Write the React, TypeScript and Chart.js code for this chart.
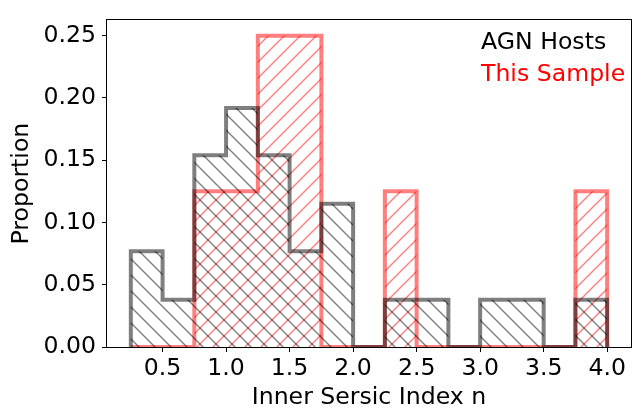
import React, { useEffect, useRef } from "react";
import { Chart, registerables } from "chart.js";

Chart.register(...registerables);

// ---- data ----
const binEdges = [0.25, 0.5, 0.75, 1.0, 1.25, 1.5, 1.75, 2.0, 2.25, 2.5, 2.75, 3.0, 3.25, 3.5, 3.75, 4.0];
const agnHosts = [0.077, 0.038, 0.154, 0.192, 0.154, 0.077, 0.115, 0.0, 0.038, 0.038, 0.0, 0.038, 0.038, 0.0, 0.038];
const thisSample = [0.0, 0.0, 0.125, 0.125, 0.25, 0.25, 0.0, 0.0, 0.125, 0.0, 0.0, 0.0, 0.0, 0.0, 0.125];
const seriesNames = ["AGN Hosts", "This Sample"];
const xTicks = [0.5, 1.0, 1.5, 2.0, 2.5, 3.0, 3.5, 4.0];
const yTicks = [0.0, 0.05, 0.1, 0.15, 0.2, 0.25];
const xRange = [0.0625, 4.1875];
const yRange = [0, 0.2625];

const FONT = "DejaVu Sans";
const FS = 23.6;

function stepPoints(edges: number[], vals: number[]) {
  const pts: { x: number; y: number }[] = [{ x: edges[0], y: 0 }];
  vals.forEach((v, i) => pts.push({ x: edges[i], y: v }));
  pts.push({ x: edges[edges.length - 1], y: vals[vals.length - 1] });
  pts.push({ x: edges[edges.length - 1], y: 0 });
  return pts;
}

function hatch(color: string, dir: "/" | "\\") {
  const s = 16;
  const c = document.createElement("canvas");
  c.width = s;
  c.height = s;
  const g = c.getContext("2d")!;
  g.strokeStyle = color;
  g.lineWidth = 1.4;
  if (dir === "/") {
    for (const cc of [0, s, 2 * s]) {
      g.beginPath();
      g.moveTo(cc - s - 2, s + 2);
      g.lineTo(cc + 2, -2);
      g.stroke();
    }
  } else {
    for (const cc of [-s, 0, s]) {
      g.beginPath();
      g.moveTo(cc - 2, -2);
      g.lineTo(cc + s + 2, s + 2);
      g.stroke();
    }
  }
  return g.createPattern(c, "repeat")!;
}

const framePlugin = {
  id: "frame",
  afterDatasetsDraw(chart: any) {
    const { ctx, chartArea } = chart;
    ctx.save();
    ctx.strokeStyle = "#000";
    ctx.lineWidth = 1;
    ctx.strokeRect(
      Math.round(chartArea.left) - 0.5,
      Math.round(chartArea.top) - 0.5,
      Math.round(chartArea.right - chartArea.left) + 1,
      Math.round(chartArea.bottom - chartArea.top) + 1
    );
    ctx.restore();
  },
  afterDraw(chart: any) {
    const { ctx, chartArea } = chart;
    ctx.save();
    ctx.font = `${FS}px "${FONT}"`;
    ctx.textAlign = "left";
    ctx.textBaseline = "alphabetic";
    const colors = ["#000000", "#ff0000"];
    seriesNames.forEach((name, i) => {
      ctx.fillStyle = colors[i];
      ctx.fillText(name, chartArea.right - 150, chartArea.top + 29 + 32 * i);
    });
    ctx.restore();
  },
};

export default function App() {
  const ref = useRef<HTMLCanvasElement>(null);
  useEffect(() => {
    const canvas = ref.current!;
    const chart = new Chart(canvas, {
      type: "line",
      data: {
        datasets: [
          {
            label: seriesNames[0],
            data: stepPoints(binEdges, agnHosts),
            stepped: "before",
            borderColor: "rgba(0,0,0,0.5)",
            backgroundColor: hatch("rgba(0,0,0,0.5)", "\\"),
            borderWidth: 4,
            borderJoinStyle: "miter",
            fill: "origin",
            pointRadius: 0,
            clip: 0,
          } as any,
          {
            label: seriesNames[1],
            data: stepPoints(binEdges, thisSample),
            stepped: "before",
            borderColor: "rgba(255,0,0,0.5)",
            backgroundColor: hatch("rgba(255,0,0,0.5)", "/"),
            borderWidth: 4,
            borderJoinStyle: "miter",
            fill: "origin",
            pointRadius: 0,
            clip: 0,
          } as any,
        ],
      },
      options: {
        animation: false,
        responsive: false,
        layout: { padding: { left: 0, right: 8, top: 8, bottom: 0 } },
        plugins: { legend: { display: false }, tooltip: { enabled: false } },
        font: { family: FONT, size: FS },
        scales: {
          x: {
            type: "linear",
            min: xRange[0],
            max: xRange[1],
            afterBuildTicks: (s: any) => {
              s.ticks = xTicks.map((v) => ({ value: v }));
            },
            afterFit: (s: any) => {
              s.height = 61;
            },
            ticks: {
              font: { family: FONT, size: FS },
              color: "#000",
              padding: 3,
              maxRotation: 0,
              autoSkip: false,
              callback: (v: any) => Number(v).toFixed(1),
            },
            grid: { drawOnChartArea: false, drawTicks: true, tickLength: 5, tickWidth: 1, tickColor: "#000" },
            border: { display: false },
            title: {
              display: true,
              text: "Inner Sersic Index n",
              font: { family: FONT, size: FS },
              color: "#000",
              padding: { top: 0, bottom: -4 },
            },
          },
          y: {
            type: "linear",
            min: yRange[0],
            max: yRange[1],
            afterBuildTicks: (s: any) => {
              s.ticks = yTicks.map((v) => ({ value: v }));
            },
            afterFit: (s: any) => {
              s.width = 107;
            },
            ticks: {
              font: { family: FONT, size: FS },
              color: "#000",
              padding: 6,
              callback: (v: any) => Number(v).toFixed(2),
            },
            grid: { drawOnChartArea: false, drawTicks: true, tickLength: 5, tickWidth: 1, tickColor: "#000" },
            border: { display: false },
            title: {
              display: true,
              text: "Proportion",
              font: { family: FONT, size: FS },
              color: "#000",
              padding: { top: 8, bottom: 0 },
            },
          },
        },
      } as any,
      plugins: [framePlugin],
    });
    return () => chart.destroy();
  }, []);
  return (
    <div style={{ position: "absolute", left: 0, top: 0, width: 639, height: 408 }}>
      <canvas ref={ref} width={639} height={408} />
    </div>
  );
}
